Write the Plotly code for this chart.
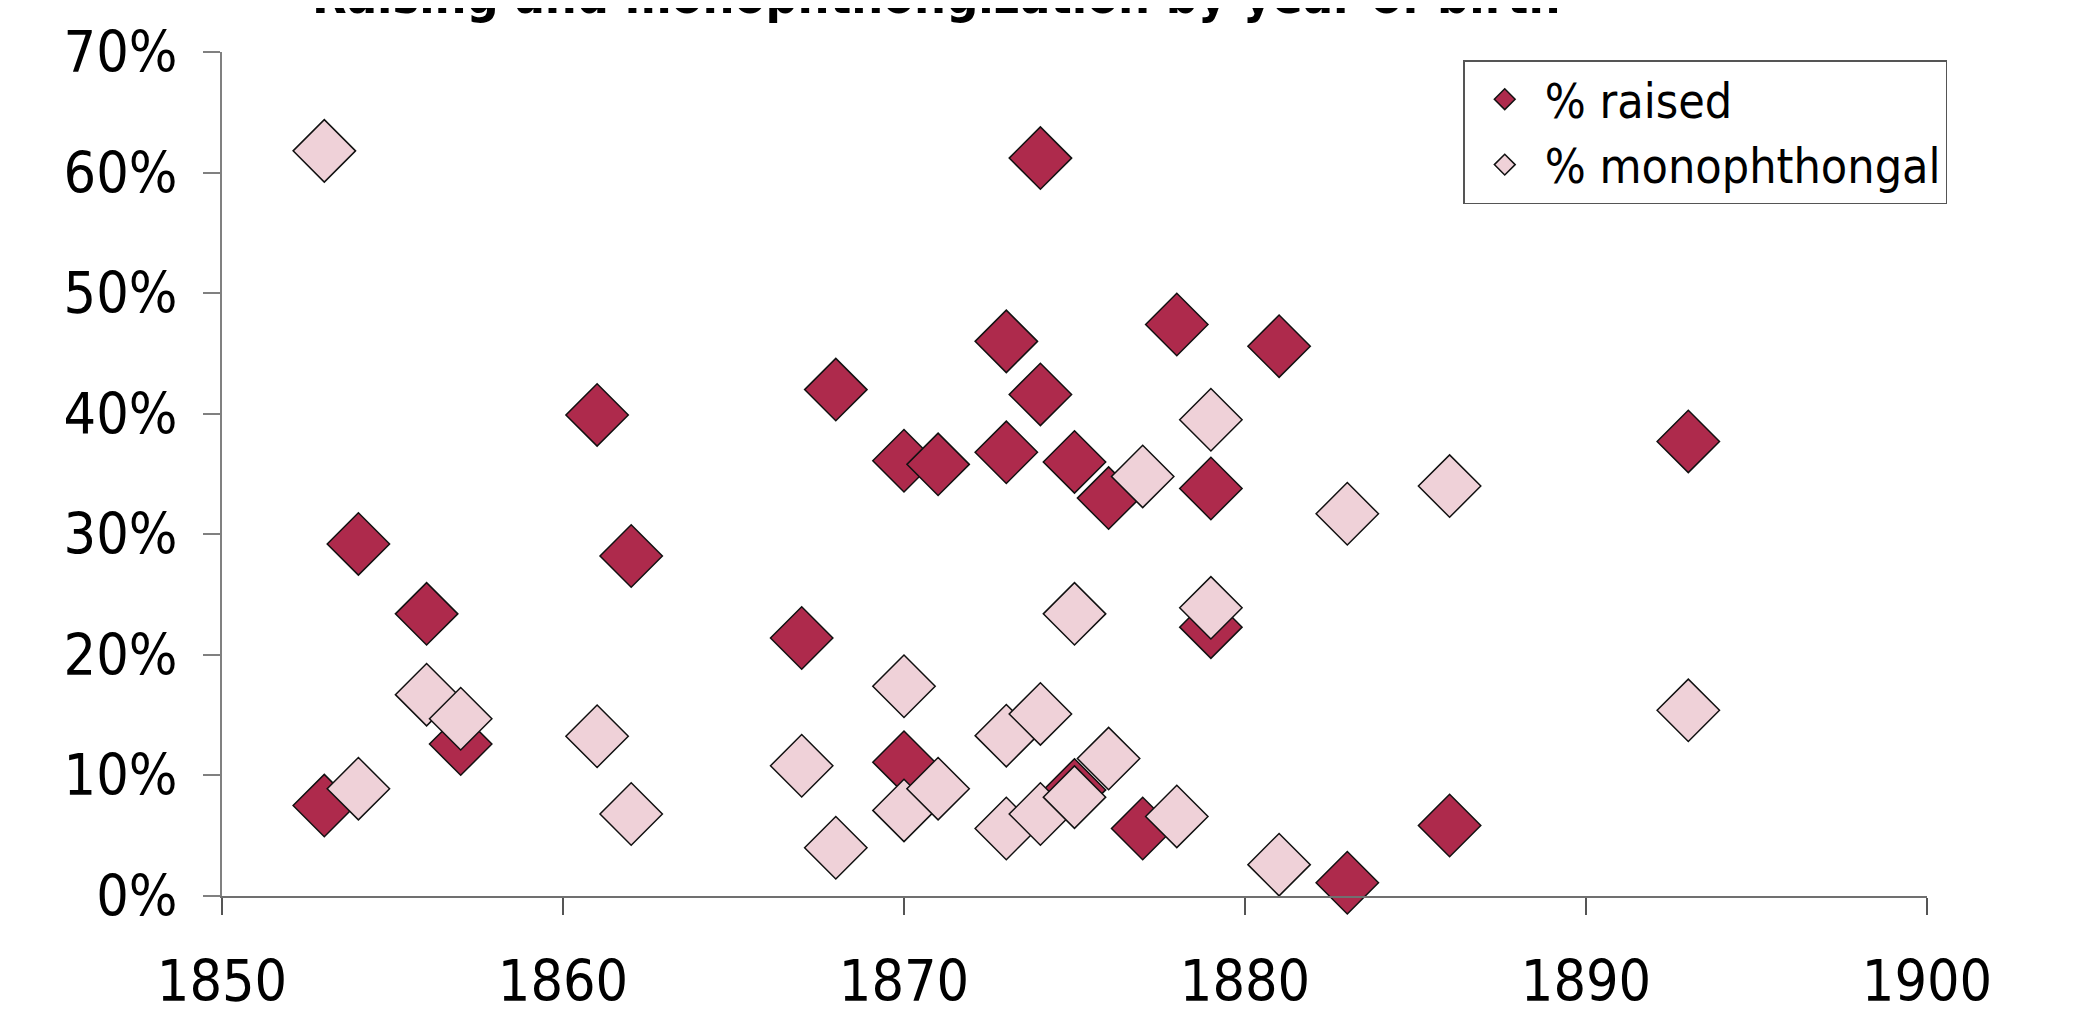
import plotly.graph_objects as go

# Year of birth for each speaker
years = [1853, 1854, 1856, 1857, 1861, 1862, 1867, 1868, 1870, 1870, 1871,
         1873, 1873, 1874, 1874, 1875, 1875, 1876, 1877, 1878, 1879, 1879,
         1881, 1883, 1886, 1893]

# % raised (fraction)
raised = [0.075, 0.292, 0.234, 0.126, 0.399, 0.282, 0.214, 0.420, 0.361, 0.111, 0.358,
          0.460, 0.368, 0.612, 0.416, 0.360, 0.088, 0.330, 0.056, 0.474, 0.338, 0.223,
          0.456, 0.011, 0.0585, 0.377]

# % monophthongal (fraction)
mono_years = [1853, 1854, 1856, 1857, 1861, 1862, 1867, 1868, 1870, 1870, 1871,
              1873, 1873, 1874, 1874, 1875, 1875, 1876, 1877, 1878, 1879, 1879,
              1881, 1883, 1886, 1893]
mono = [0.618, 0.089, 0.167, 0.147, 0.1325, 0.068, 0.108, 0.040, 0.174, 0.071, 0.089,
        0.133, 0.056, 0.151, 0.068, 0.234, 0.082, 0.114, 0.348, 0.066, 0.395, 0.239,
        0.026, 0.317, 0.340, 0.154]

x_ticks = [1850, 1860, 1870, 1880, 1890, 1900]
y_ticks = [0, 0.1, 0.2, 0.3, 0.4, 0.5, 0.6, 0.7]
y_labels = ["0%", "10%", "20%", "30%", "40%", "50%", "60%", "70%"]

title_text = "Raising and monophthongization by year of birth"

DARK = "#AE2A4C"
LIGHT = "#EFD1D8"
FONT = "DejaVu Sans Condensed, DejaVu Sans, sans-serif"

fig = go.Figure()
fig.add_trace(go.Scatter(
    x=years, y=raised, mode="markers", name="% raised",
    marker=dict(symbol="diamond", size=48, color=DARK,
                line=dict(color="#111111", width=1.5)),
    cliponaxis=False,
))
fig.add_trace(go.Scatter(
    x=mono_years, y=mono, mode="markers", name="% monophthongal",
    marker=dict(symbol="diamond", size=48, color=LIGHT,
                line=dict(color="#111111", width=1.5)),
    cliponaxis=False,
))

# the page body adds an 8px margin, so the figure is 8px smaller on each axis
fig.update_layout(
    width=2066, height=1004,
    margin=dict(l=214, r=147, t=44, b=116, autoexpand=False),
    paper_bgcolor="white", plot_bgcolor="white",
    font=dict(family=FONT, size=57, color="black"),
    showlegend=True,
    legend=dict(
        x=0.728, y=0.9905, xanchor="left", yanchor="top",
        bgcolor="white", bordercolor="#555555", borderwidth=1.5,
        font=dict(family=FONT, size=48, color="black"),
        tracegroupgap=0, itemsizing="trace", itemwidth=70,
    ),
    annotations=[dict(
        text="<b>" + title_text + "</b>",
        xref="paper", yref="paper", x=0.4188, y=1.0664,
        xanchor="center", yanchor="middle", showarrow=False,
        font=dict(family=FONT, size=50, color="black"),
    )],
)

fig.update_xaxes(
    range=[1850, 1900], tickvals=x_ticks, ticktext=[str(v) for v in x_ticks],
    showgrid=False, zeroline=False, automargin=False,
    showline=True, linecolor="#707070", linewidth=2,
    ticks="outside", ticklen=17, tickwidth=1.5, tickcolor="#555555",
    ticklabelstandoff=18,
    tickfont=dict(family=FONT, size=57, color="black"),
)
fig.update_yaxes(
    range=[0, 0.7], tickvals=y_ticks, ticktext=y_labels,
    showgrid=False, zeroline=False, automargin=False,
    showline=True, linecolor="#808080", linewidth=2,
    ticks="outside", ticklen=17, tickwidth=1.5, tickcolor="#808080",
    ticklabelstandoff=14,
    tickfont=dict(family=FONT, size=57, color="black"),
)

fig.write_html("out.html")
